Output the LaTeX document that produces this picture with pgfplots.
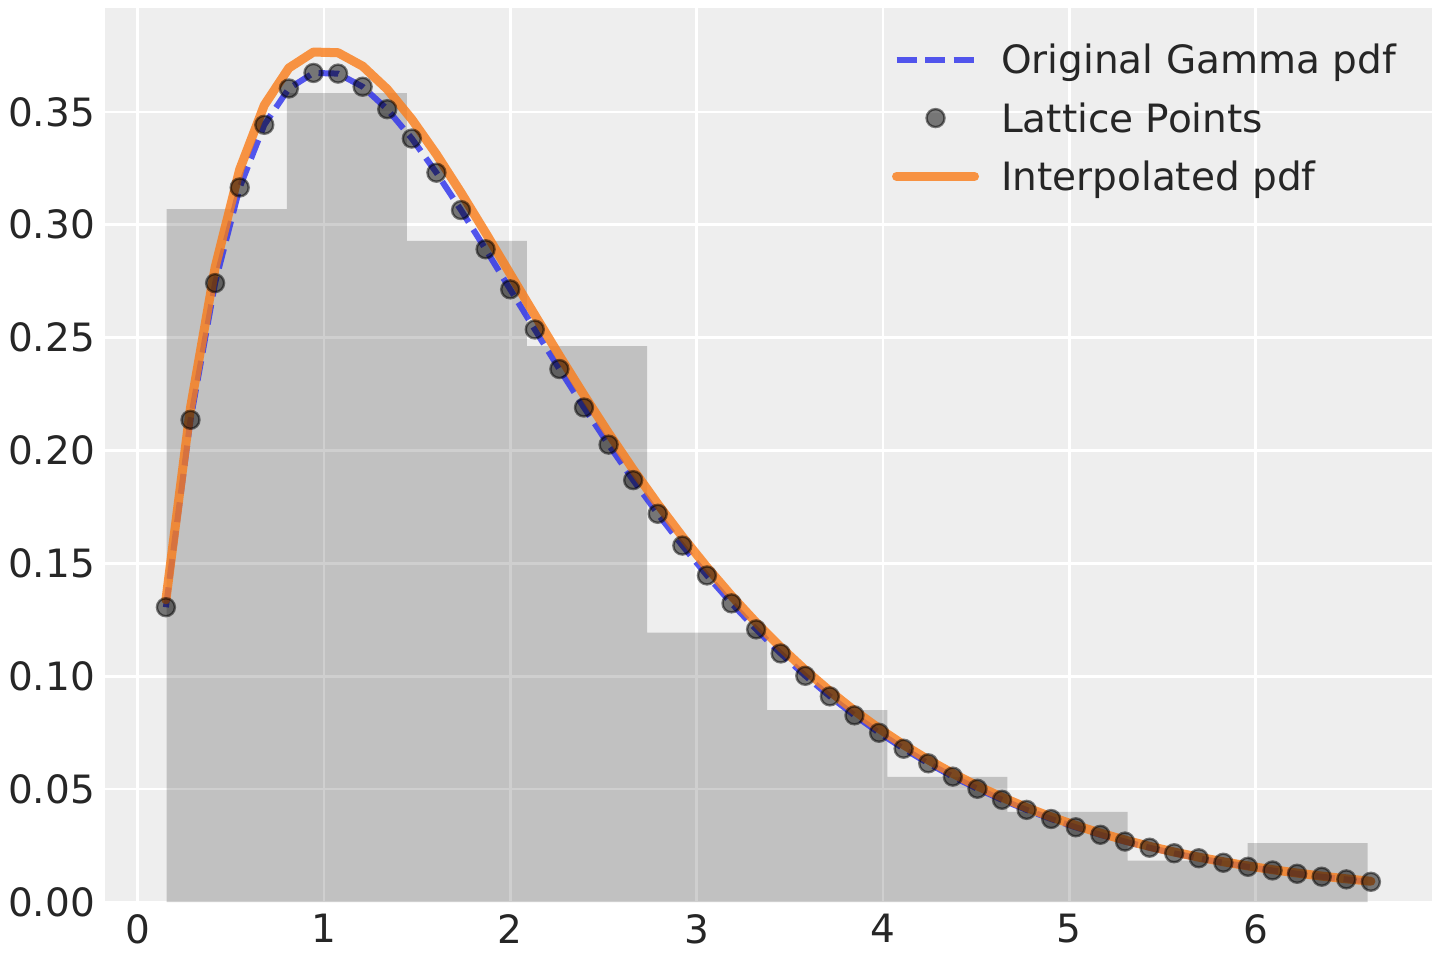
\documentclass[border=0pt]{standalone}
\usepackage{fontspec}
\setmainfont{DejaVu Sans}
\usepackage{pgfplots}
\usepackage{pgfplotstable}
\pgfplotsset{compat=1.18}
\definecolor{bgc}{HTML}{EEEEEE}
\definecolor{cblue}{HTML}{2A2EEC}
\definecolor{corange}{HTML}{FA7C17}
\definecolor{tickc}{HTML}{262626}
\pgfplotsset{
  linelegend/.style={legend image code/.code={\draw[##1] (0pt,0pt) -- (39pt,0pt);}},
  marklegend/.style={legend image code/.code={\draw[##1] plot coordinates {(19.5pt,0pt)};}},
}

\pgfplotstableread{
x f g
0.151 0.13057 0.13386
0.283 0.21359 0.21897
0.415 0.27414 0.28105
0.547 0.31651 0.32449
0.679 0.34426 0.35294
0.811 0.36035 0.36943
0.943 0.36723 0.37649
1.075 0.36694 0.37619
1.207 0.36113 0.37023
1.339 0.35117 0.36002
1.471 0.33817 0.34669
1.603 0.32304 0.33118
1.735 0.30650 0.31422
1.867 0.28912 0.29641
1.999 0.27137 0.27821
2.131 0.25360 0.25999
2.263 0.23608 0.24203
2.395 0.21903 0.22455
2.527 0.20259 0.20770
2.659 0.18688 0.19159
2.791 0.17196 0.17629
2.923 0.15788 0.16186
3.055 0.14465 0.14830
3.187 0.13229 0.13562
3.319 0.12077 0.12381
3.451 0.11009 0.11286
3.583 0.10020 0.10273
3.715 0.09108 0.09338
3.847 0.08268 0.08476
3.979 0.07497 0.07686
4.111 0.06790 0.06961
4.243 0.06144 0.06299
4.375 0.05553 0.05693
4.507 0.05015 0.05141
4.639 0.04526 0.04640
4.771 0.04080 0.04183
4.903 0.03676 0.03769
5.035 0.03309 0.03392
5.167 0.02977 0.03052
5.299 0.02677 0.02744
5.431 0.02405 0.02466
5.563 0.02160 0.02214
5.695 0.01938 0.01987
5.827 0.01739 0.01783
5.959 0.01559 0.01598
6.091 0.01397 0.01432
6.223 0.01251 0.01283
6.355 0.01120 0.01148
6.487 0.01002 0.01027
6.619 0.00896 0.00919
}\lattice

\begin{document}
\begin{tikzpicture}
\begin{axis}[
  at={(0,0)}, anchor=south west, scale only axis,
  width=663.5pt, height=447pt,
  xmin=-0.176, xmax=6.947, ymin=0, ymax=0.396,
  axis background/.style={fill=bgc},
  axis line style={draw=none},
  xtick={0,1,2,3,4,5,6},
  ytick={0,0.05,0.1,0.15,0.2,0.25,0.3,0.35},
  scaled y ticks=false,
  grid=major,
  major grid style={draw=white, line width=1.3pt},
  major tick length=0pt,
  tick style={draw=none},
  tick label style={font=\fontsize{19.5}{23}\selectfont, text=tickc},
  xticklabel style={inner sep=6pt},
  yticklabel style={inner sep=4.8pt},
  /pgf/number format/assume math mode=true,
  yticklabel style={/pgf/number format/fixed, /pgf/number format/fixed zerofill, /pgf/number format/precision=2},
  legend cell align=left,
  legend style={draw=none, fill=none, inner sep=0pt, outer sep=0pt,
    at={(0.5931,0.97465)}, anchor=north west,
    font=\fontsize{19.5}{23}\selectfont, text=tickc, row sep=0pt,
    nodes={inner sep=4.82pt, text height=16.85pt, text depth=2.65pt},
    /tikz/every odd column/.append style={column sep=6.2pt}},
]
\addplot[draw=none, fill=black, fill opacity=0.19, const plot, forget plot] coordinates {
(0.1550,0.3069) (0.7997,0.3583) (1.4444,0.2929) (2.0891,0.2462) (2.7338,0.1193)
(3.3785,0.0850) (4.0232,0.0554) (4.6679,0.0399) (5.3126,0.0183) (5.9573,0.0261)
(6.6020,0.0261)} \closedcycle;

\addplot[cblue, draw opacity=0.8, line width=3pt, dash pattern=on 10pt off 4.3pt,
  line cap=butt, line join=round, linelegend]
  table[x=x,y=f]{\lattice};
\addlegendentry{Original Gamma pdf}

\addplot[only marks, mark=*, mark size=4.5pt,
  mark options={solid, draw=black, fill=black, draw opacity=0.5, fill opacity=0.5, line width=1.2pt},
  marklegend]
  table[x=x,y=f]{\lattice};
\addlegendentry{Lattice Points}

\addplot[corange, draw opacity=0.8, line width=4.5pt, line cap=round, line join=round, linelegend]
  table[x=x,y=g]{\lattice};
\addlegendentry{Interpolated pdf}
\end{axis}
\pgfresetboundingbox
\path[use as bounding box] (-52.5pt,-29pt) rectangle (667.5pt,451pt);
\end{tikzpicture}
\end{document}
